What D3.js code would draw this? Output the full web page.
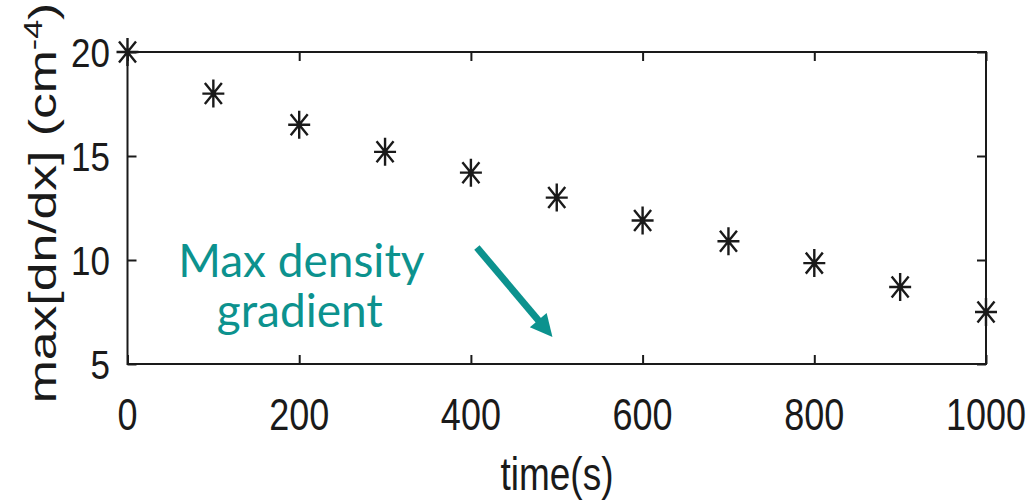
<!DOCTYPE html>
<html>
<head>
<meta charset="utf-8">
<script src="https://cdn.jsdelivr.net/npm/d3@7"></script>
<style>
  html, body { margin: 0; padding: 0; background: #fff; }
  svg { display: block; }
</style>
</head>
<body>
<svg id="chart" width="1028" height="503"></svg>
<script>
// Time samples (s) and the maximum density gradient at each (cm^-4)
const times = [0, 100, 200, 300, 400, 500, 600, 700, 800, 900, 1000];
const maxGradient = [20.0, 18.0, 16.5, 15.2, 14.2, 13.0, 11.9, 10.9, 9.85, 8.7, 7.5];

const xTicks = [0, 200, 400, 600, 800, 1000];
const yTicks = [5, 10, 15, 20];
const xDomain = [0, 1000];
const yDomain = [5, 20];

// Annotation: label and arrow, placed in data units
const noteLines = ["Max density", "gradient"];
const noteAnchor = [{ t: 59, v: 9.2 }, { t: 104, v: 6.8 }];
const arrowFrom = { t: 407, v: 10.6 };
const arrowTo = { t: 495, v: 6.3 };

const svg = d3.select("#chart");
const box = { left: 127.5, right: 986, top: 52, bottom: 364 };

const x = d3.scaleLinear().domain(xDomain).range([box.left, box.right]);
const y = d3.scaleLinear().domain(yDomain).range([box.bottom, box.top]);

const ink = "#1a1a1a";
const axisFont = "'Liberation Sans', Arial, sans-serif";
const stretch = 1.24;   // tall, narrow glyphs of the axis text
const tickLen = 9;

// Frame
svg.append("rect")
  .attr("x", box.left).attr("y", box.top)
  .attr("width", box.right - box.left).attr("height", box.bottom - box.top)
  .attr("fill", "none").attr("stroke", ink).attr("stroke-width", 2);

// Axes with inward ticks (bottom/left carry labels, top/right are mirrors)
function styleAxis(g) {
  g.select(".domain").remove();
  g.selectAll(".tick line").attr("stroke", ink).attr("stroke-width", 2);
  g.selectAll(".tick text").remove();
}
svg.append("g").attr("transform", `translate(0,${box.bottom})`)
  .call(d3.axisBottom(x).tickValues(xTicks).tickSizeInner(-tickLen).tickSizeOuter(0)).call(styleAxis);
svg.append("g").attr("transform", `translate(0,${box.top})`)
  .call(d3.axisTop(x).tickValues(xTicks).tickSizeInner(-tickLen).tickSizeOuter(0)).call(styleAxis);
svg.append("g").attr("transform", `translate(${box.left},0)`)
  .call(d3.axisLeft(y).tickValues(yTicks).tickSizeInner(-tickLen).tickSizeOuter(0)).call(styleAxis);
svg.append("g").attr("transform", `translate(${box.right},0)`)
  .call(d3.axisRight(y).tickValues(yTicks).tickSizeInner(-tickLen).tickSizeOuter(0)).call(styleAxis);

// Tick labels
svg.append("g").selectAll("text").data(xTicks).join("text")
  .attr("transform", d => `translate(${x(d)},430) scale(1,${stretch})`)
  .attr("text-anchor", "middle")
  .attr("font-family", axisFont).attr("font-size", 36).attr("fill", ink)
  .text(d => d);

svg.append("g").selectAll("text").data(yTicks).join("text")
  .attr("transform", d => `translate(110,${y(d) + 15}) scale(1,${stretch - 0.06})`)
  .attr("text-anchor", "end")
  .attr("font-family", axisFont).attr("font-size", 35).attr("fill", ink)
  .text(d => d);

// Axis titles
svg.append("text")
  .attr("transform", `translate(557,490) scale(1,${stretch})`)
  .attr("text-anchor", "middle")
  .attr("font-family", axisFont).attr("font-size", 37).attr("fill", ink)
  .text("time(s)");

const yTitle = svg.append("text")
  .attr("transform", `translate(56,203) rotate(-90) scale(1.36,1)`)
  .attr("text-anchor", "middle")
  .attr("font-family", axisFont).attr("font-size", 38).attr("fill", ink);
yTitle.append("tspan").text("max[dn/dx] (cm");
yTitle.append("tspan").attr("font-size", 25).attr("dy", -14).text("-4");
yTitle.append("tspan").attr("dy", 14).text(")");

// Eight-armed asterisk markers
function asterisk(cx, cy) {
  const h = 11, v = 14, dx = 8.5, dy = 10.5;
  return `M${cx - h},${cy}L${cx + h},${cy}` +
         `M${cx},${cy - v}L${cx},${cy + v}` +
         `M${cx - dx},${cy - dy}L${cx + dx},${cy + dy}` +
         `M${cx - dx},${cy + dy}L${cx + dx},${cy - dy}`;
}
const points = times.map((t, i) => ({ t, v: maxGradient[i] }));
const marks = svg.append("g");
marks.selectAll("path").data(points).join("path")
  .attr("d", d => asterisk(x(d.t), y(d.v)))
  .attr("fill", "none").attr("stroke", ink).attr("stroke-width", 2.4);
marks.selectAll("circle").data(points).join("circle")
  .attr("cx", d => x(d.t)).attr("cy", d => y(d.v)).attr("r", 2.6)
  .attr("fill", ink);

// Annotation
const teal = "#0c928e";
svg.append("g").selectAll("text").data(noteLines).join("text")
  .attr("x", (d, i) => x(noteAnchor[i].t))
  .attr("y", (d, i) => y(noteAnchor[i].v))
  .attr("font-family", "Lato, 'Noto Sans', sans-serif")
  .attr("font-size", 46).attr("fill", teal)
  .text(d => d);

const x0 = x(arrowFrom.t), y0 = y(arrowFrom.v);
const x1 = x(arrowTo.t), y1 = y(arrowTo.v);
const ang = Math.atan2(y1 - y0, x1 - x0);
const headLen = 22, headHalf = 11;
const bx = x1 - headLen * Math.cos(ang), by = y1 - headLen * Math.sin(ang);
svg.append("line")
  .attr("x1", x0).attr("y1", y0).attr("x2", bx + 2 * Math.cos(ang)).attr("y2", by + 2 * Math.sin(ang))
  .attr("stroke", teal).attr("stroke-width", 7);
svg.append("path")
  .attr("d", `M${x1},${y1}` +
    `L${bx + headHalf * Math.sin(ang)},${by - headHalf * Math.cos(ang)}` +
    `L${bx - headHalf * Math.sin(ang)},${by + headHalf * Math.cos(ang)}Z`)
  .attr("fill", teal);
</script>
</body>
</html>
